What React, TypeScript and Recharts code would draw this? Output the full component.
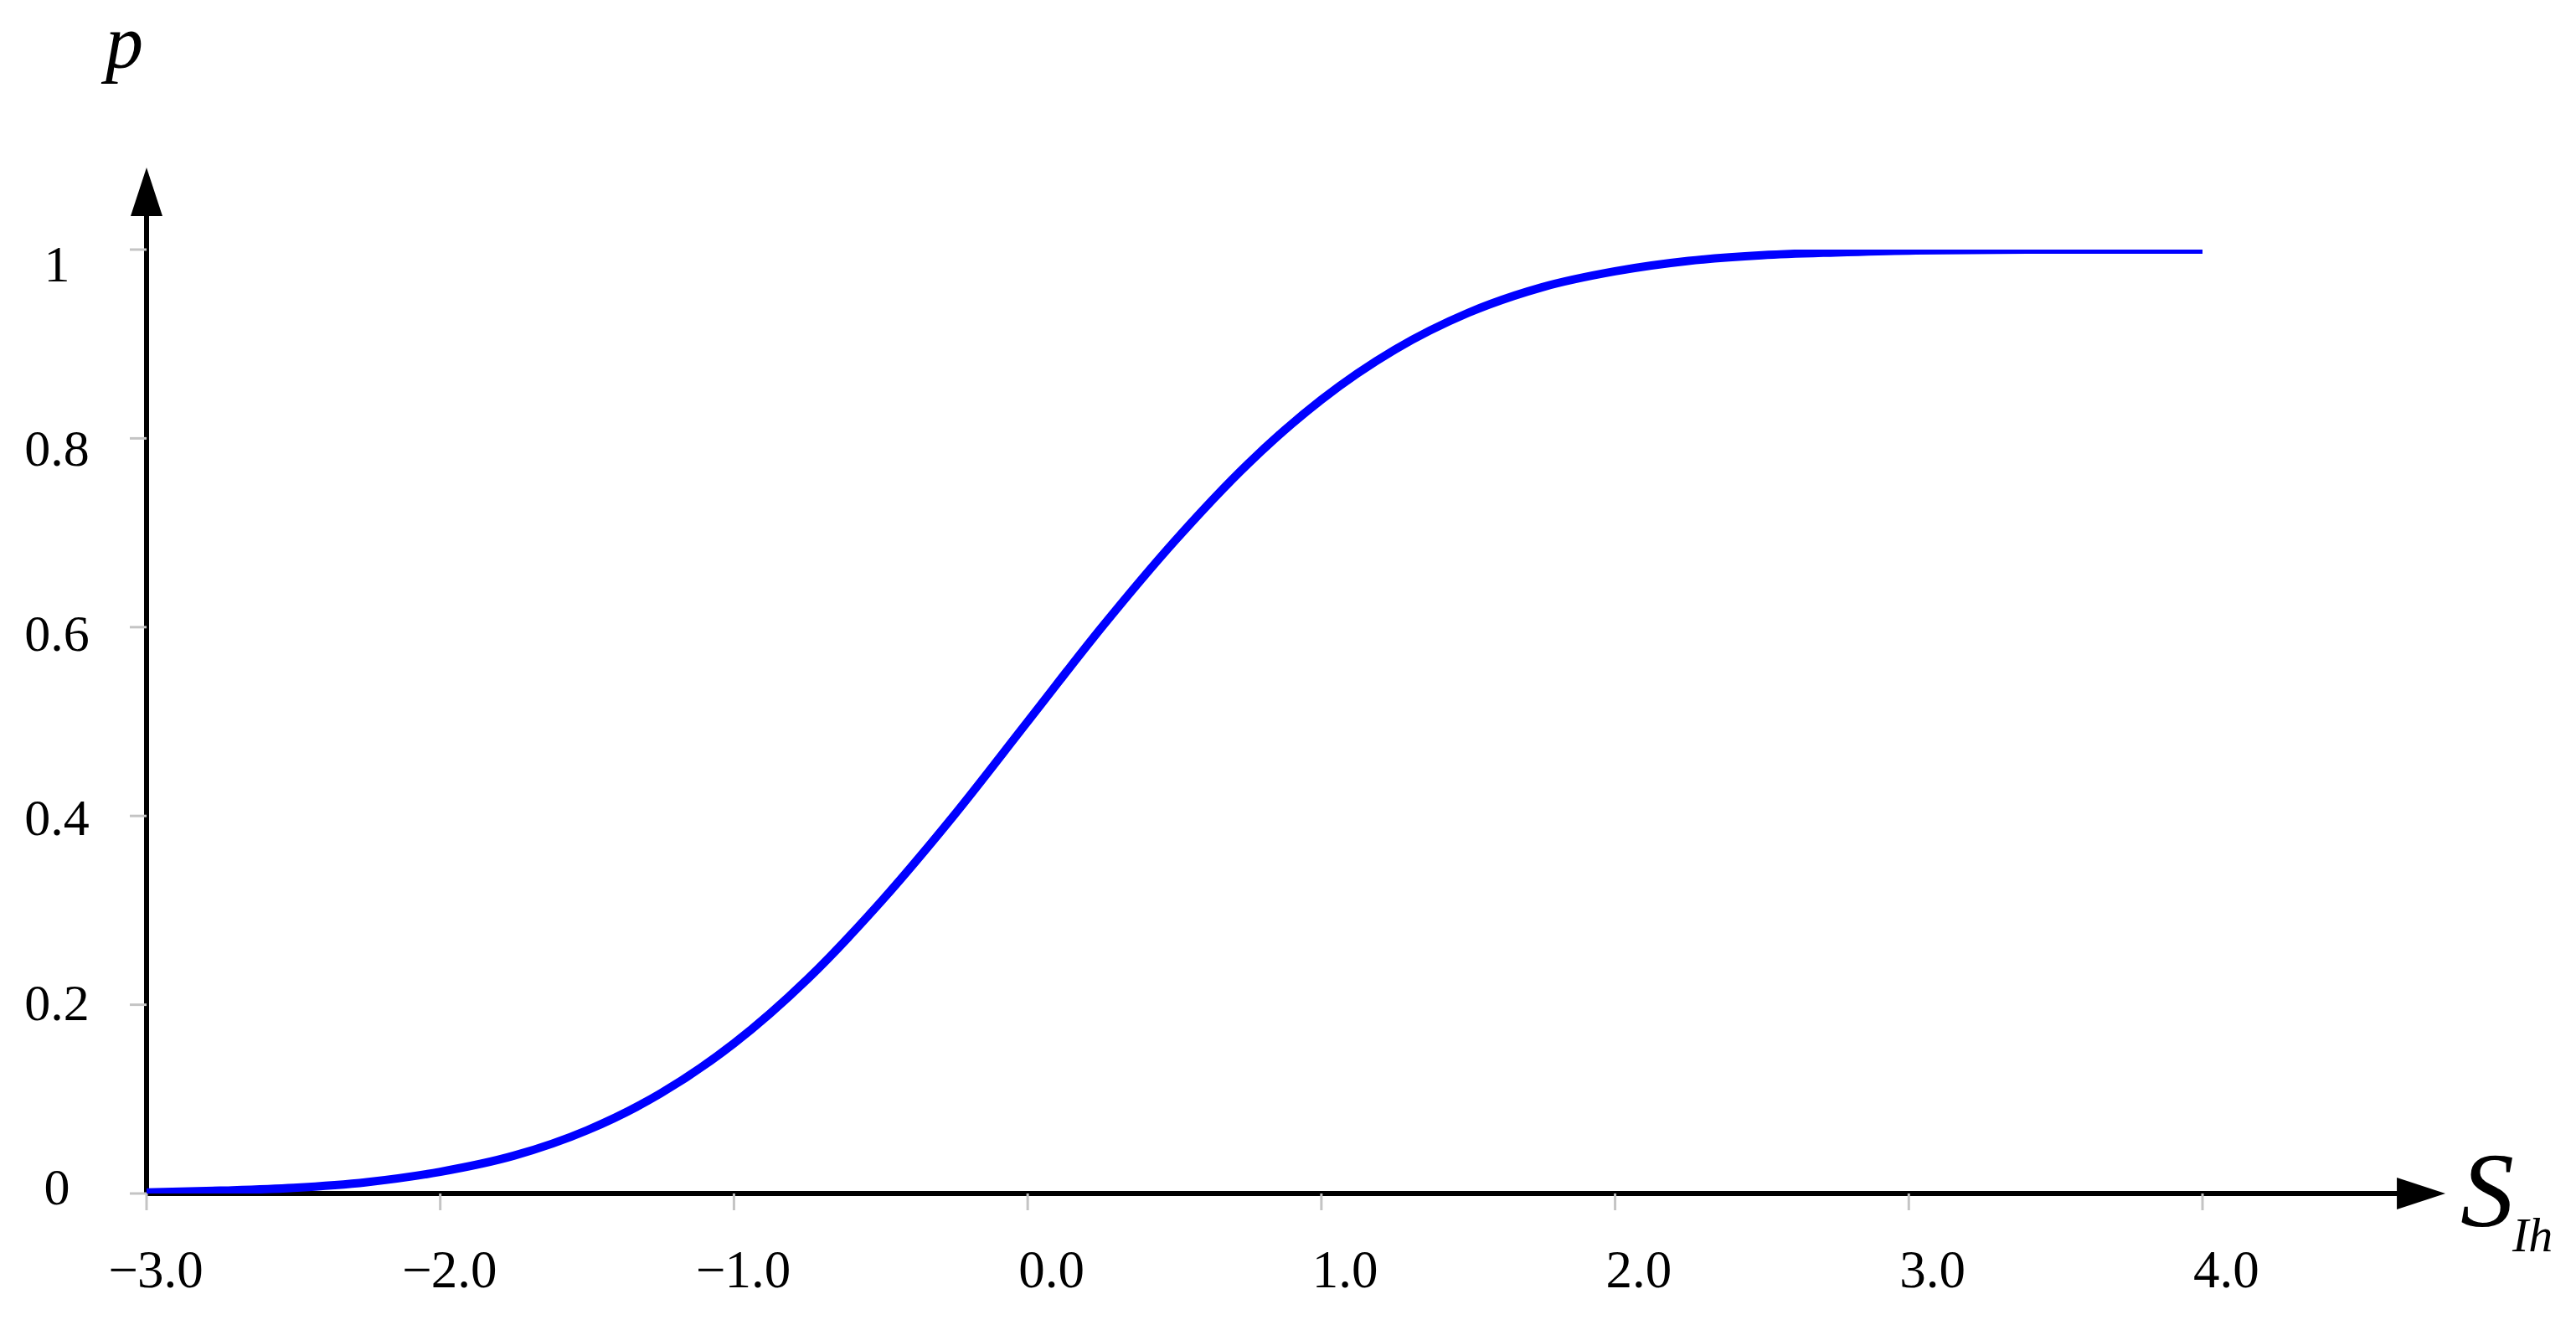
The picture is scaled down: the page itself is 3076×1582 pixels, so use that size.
import { Line, LineChart, ReferenceLine, XAxis, YAxis } from 'recharts'

// S_Ih values and the probability p
const sValues = [-3, -2.75, -2.5, -2.25, -2, -1.75, -1.5, -1.25, -1, -0.75, -0.5, -0.25, 0,
  0.25, 0.5, 0.75, 1, 1.25, 1.5, 1.75, 2, 2.25, 2.5, 2.75, 3, 3.5, 4]
const pValues = [0.001, 0.003, 0.006, 0.012, 0.023, 0.04, 0.067, 0.106, 0.159, 0.227, 0.309, 0.401, 0.5,
  0.599, 0.691, 0.773, 0.841, 0.894, 0.933, 0.96, 0.977, 0.988, 0.994, 0.997, 0.999, 1, 1]

const xTicks = [-3, -2, -1, 0, 1, 2, 3, 4]
const yTicks = [0, 0.2, 0.4, 0.6, 0.8, 1]
const yTickLabels = ['0', '0.2', '0.4', '0.6', '0.8', '1']

// how far the arrowed axes run past the data range
const xAxisEnd = 4.827
const yAxisEnd = 1.087

const rows = sValues.map((s, i) => ({ s, p: pValues[i] }))

const FONT = '"Liberation Serif", "Times New Roman", serif'

function ArrowAxis(props: any) {
  const { x1, y1, x2, y2 } = props
  const dx = x2 - x1, dy = y2 - y1
  const len = Math.hypot(dx, dy) || 1
  const ux = dx / len, uy = dy / len
  const head = 58, half = 19
  const bx = x2 - ux * head, by = y2 - uy * head
  const px = -uy, py = ux
  return (
    <g>
      <line x1={x1} y1={y1} x2={bx + ux * 2} y2={by + uy * 2} stroke="#000" strokeWidth={6} />
      <polygon points={`${x2},${y2} ${bx + px * half},${by + py * half} ${bx - px * half},${by - py * half}`} fill="#000" />
    </g>
  )
}

function XTick({ x, y, payload }: any) {
  const v = payload.value as number
  const digits = Math.abs(v).toFixed(1)
  return (
    <g fontFamily={FONT} fontSize={63} fill="#000">
      {v < 0 && <text x={x - 10} y={y + 92} textAnchor="end">−</text>}
      <text x={x - 11} y={y + 92} textAnchor="start">{digits}</text>
    </g>
  )
}

function YTick({ x, y, payload }: any) {
  const v = payload.value as number
  const i = yTicks.indexOf(v)
  // labels drift slightly below their ticks toward the top of the axis
  const off = -8 + 25 * v
  return (
    <text x={x - 87} y={y + off + 21} textAnchor="middle" fontFamily={FONT} fontSize={62} fill="#000">
      {yTickLabels[i]}
    </text>
  )
}

function PLabel({ viewBox }: any) {
  return (
    <text x={viewBox.x + 126} y={viewBox.y - 217} fontFamily={FONT} fontStyle="italic" fontSize={90} fill="#000">p</text>
  )
}

function SLabel({ viewBox }: any) {
  const x0 = viewBox.x + viewBox.width + 308
  return (
    <g fontFamily={FONT} fontStyle="italic" fill="#000">
      <text x={x0} y={viewBox.y + 39} fontSize={128}>S</text>
      <text x={x0 + 62} y={viewBox.y + 69} fontSize={58}>Ih</text>
    </g>
  )
}

export default function App() {
  return (
    <div style={{ position: 'absolute', left: 0, top: 0, background: '#fff' }}>
      <LineChart width={3076} height={1582} data={rows} margin={{ top: 298, right: 446, bottom: 0, left: 0 }}>
        <XAxis dataKey="s" type="number" domain={[-3, 4]} ticks={xTicks} height={157}
          axisLine={false} tickSize={20} tickMargin={0}
          tickLine={{ stroke: '#c4c4c4', strokeWidth: 3 }} tick={<XTick />}
          label={{ content: <SLabel /> }} allowDataOverflow />
        <YAxis type="number" domain={[0, 1]} ticks={yTicks} width={175}
          axisLine={false} tickSize={20} tickMargin={0}
          tickLine={{ stroke: '#c4c4c4', strokeWidth: 3 }} tick={<YTick />}
          label={{ content: <PLabel /> }} allowDataOverflow />
        <ReferenceLine segment={[{ x: -3, y: 0 }, { x: xAxisEnd, y: 0 }]} ifOverflow="visible" shape={ArrowAxis} />
        <ReferenceLine segment={[{ x: -3, y: 0 }, { x: -3, y: yAxisEnd }]} ifOverflow="visible" shape={ArrowAxis} />
        <Line type="monotone" dataKey="p" stroke="#0000ff" strokeWidth={10} strokeLinecap="round"
          dot={false} activeDot={false} isAnimationActive={false} />
      </LineChart>
    </div>
  )
}
